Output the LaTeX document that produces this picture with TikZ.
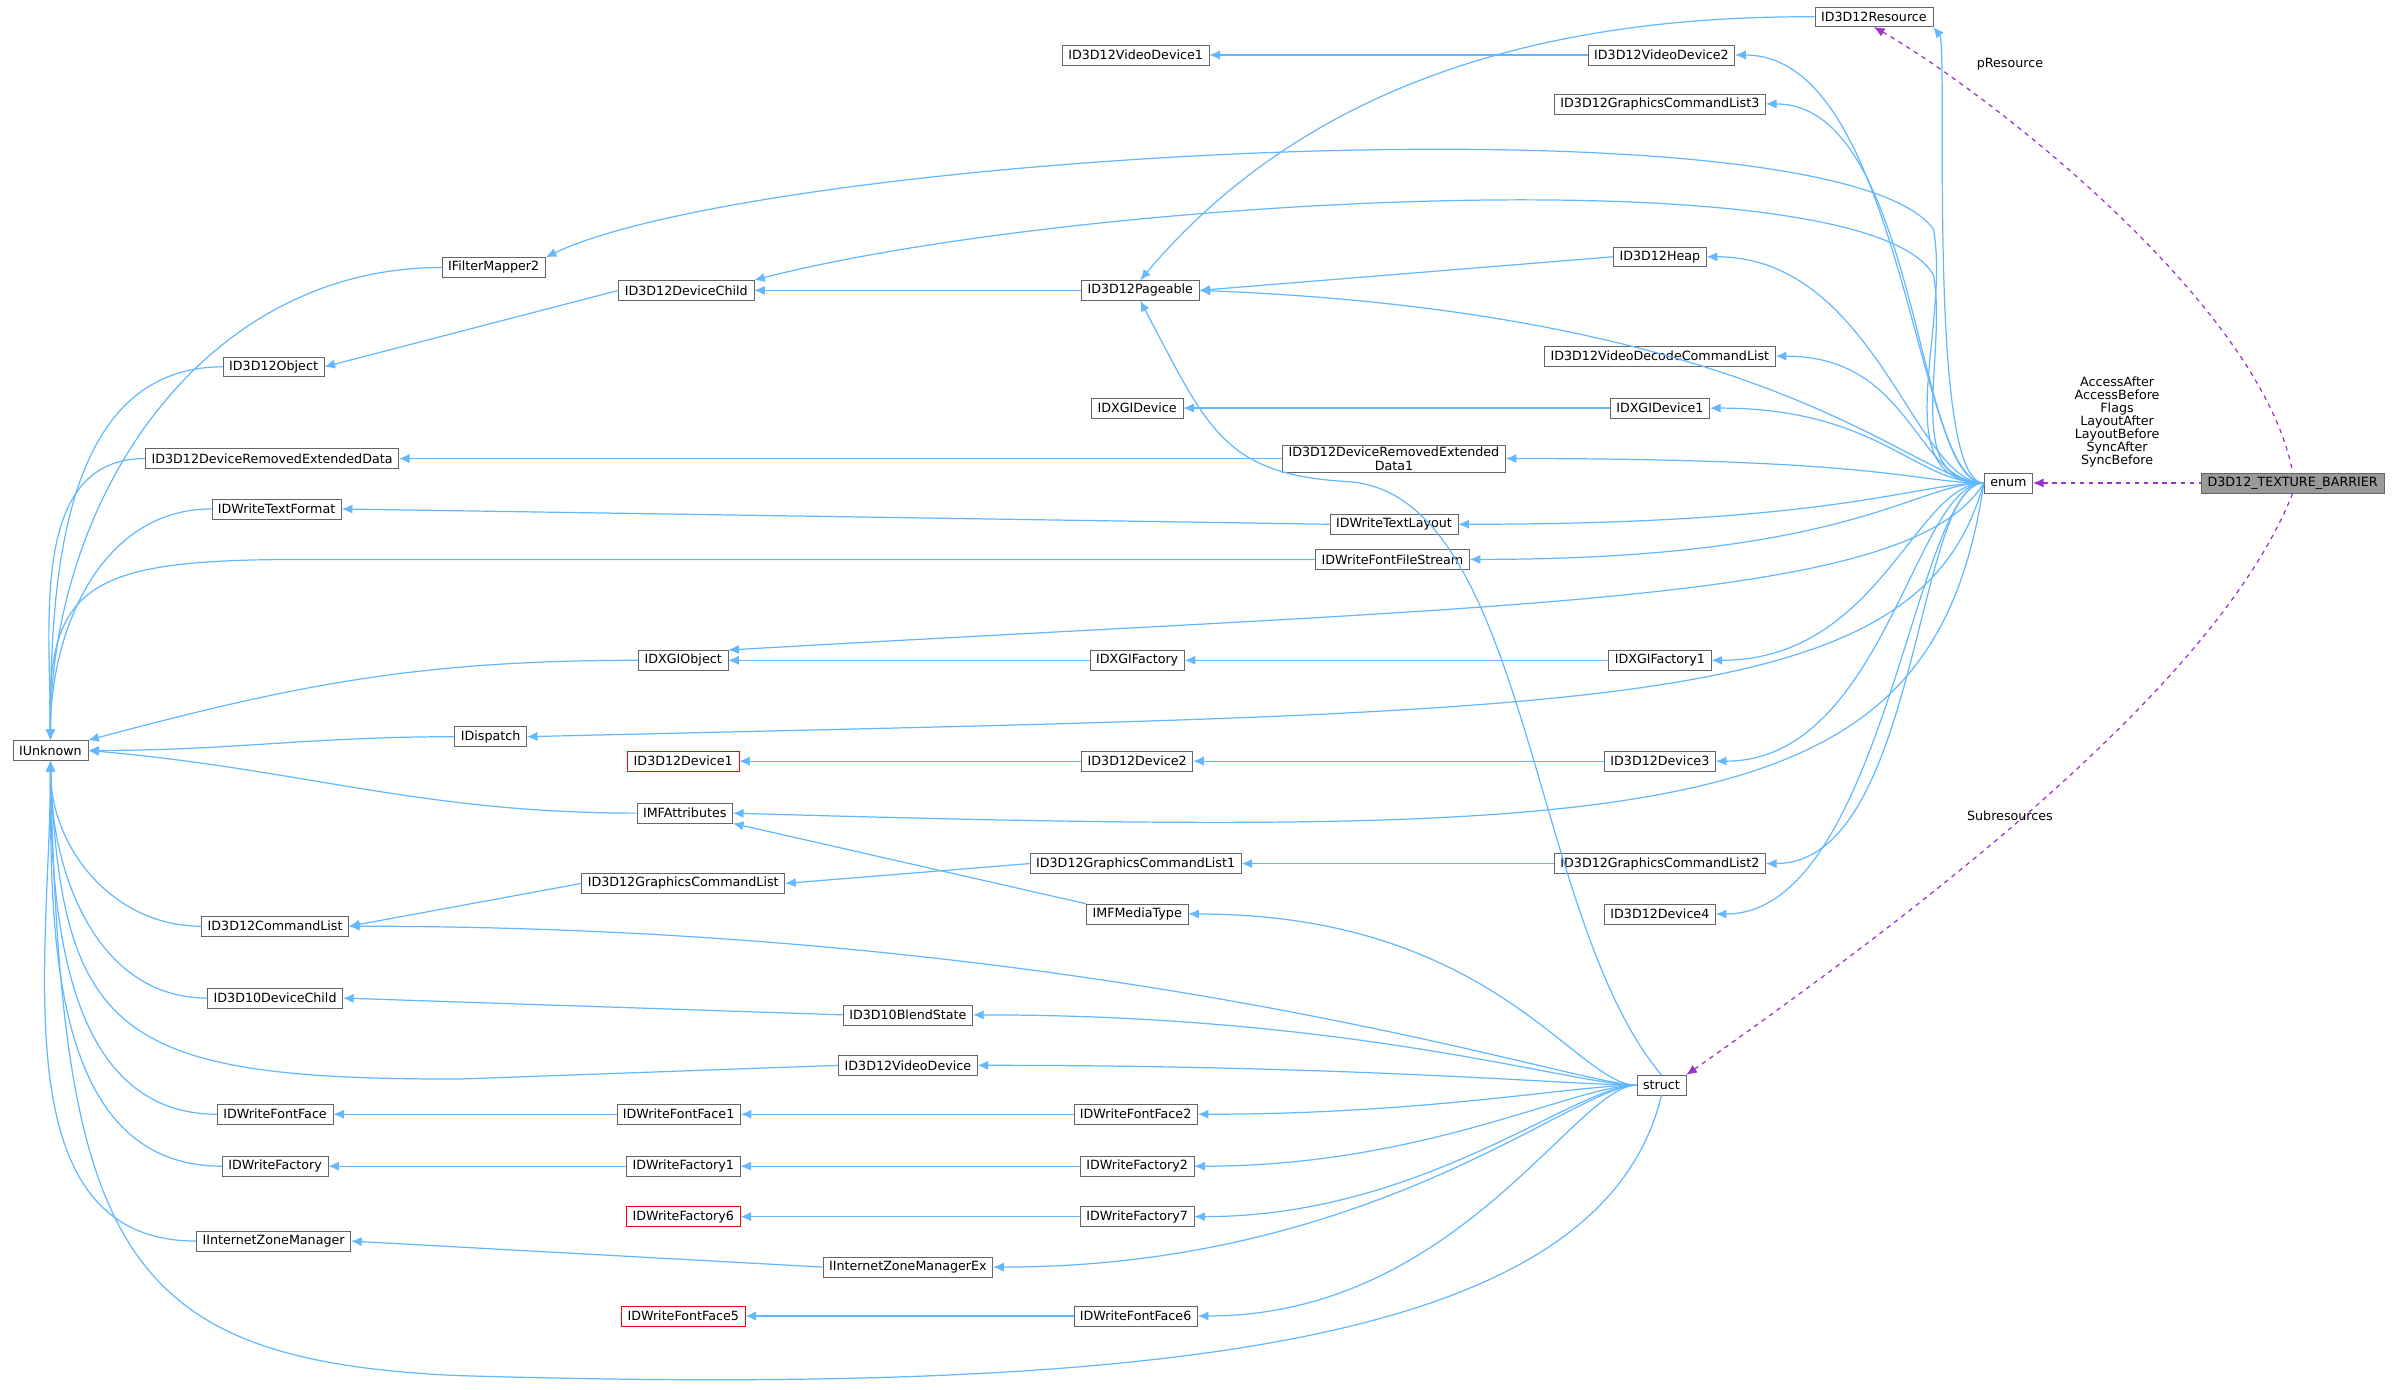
\documentclass[tikz,border=0pt]{standalone}
\usepackage{fontspec}
\setmainfont{DejaVu Sans}
\usetikzlibrary{arrows.meta}
\definecolor{eb}{RGB}{99,184,255}
\definecolor{pu}{RGB}{154,50,205}
\begin{document}
\begin{tikzpicture}[x=1pt,y=-1pt,
 n/.style={draw=black!60,fill=white,font=\fontsize{8.3}{9}\selectfont,minimum height=13pt,inner xsep=4pt,inner ysep=1pt,align=center},
 r/.style={n,draw=red},
 e/.style={draw=eb,line width=0.8pt,{Latex[length=7pt,width=6pt]}-},
 p/.style={draw=pu,line width=0.8pt,dashed,{Latex[length=7pt,width=6pt]}-},
 lb/.style={font=\fontsize{8.3}{8.5}\selectfont,align=center,inner sep=0pt}]
\useasboundingbox (0,0) rectangle (1565,909);
\node[n,fill=black!40] (tb) at (1500,316) {D3D12\_TEXTURE\_BARRIER};
\node[n] (enum) at (1314,316) {enum};
\node[n] (struct) at (1087,710) {struct};
\node[n] (res) at (1226,11) {ID3D12Resource};
\node[n] (vd1) at (743,36) {ID3D12VideoDevice1};
\node[n] (vd2) at (1087,36) {ID3D12VideoDevice2};
\node[n] (gcl3) at (1086,68) {ID3D12GraphicsCommandList3};
\node[n] (fm2) at (323,175) {IFilterMapper2};
\node[n] (dc) at (449,190) {ID3D12DeviceChild};
\node[n] (pg) at (746,190) {ID3D12Pageable};
\node[n] (heap) at (1086,168) {ID3D12Heap};
\node[n] (obj) at (179,240) {ID3D12Object};
\node[n] (vdcl) at (1086,233) {ID3D12VideoDecodeCommandList};
\node[n] (dxd) at (744,267) {IDXGIDevice};
\node[n] (dxd1) at (1086,267) {IDXGIDevice1};
\node[n] (dred) at (178,300) {ID3D12DeviceRemovedExtendedData};
\node[n] (dred1) at (912,300) {ID3D12DeviceRemovedExtended\\Data1};
\node[n] (tf) at (181,333) {IDWriteTextFormat};
\node[n] (tl) at (912,343) {IDWriteTextLayout};
\node[n] (ffs) at (911,366) {IDWriteFontFileStream};
\node[n] (dxo) at (447,432) {IDXGIObject};
\node[n] (dxf) at (744,432) {IDXGIFactory};
\node[n] (dxf1) at (1086,432) {IDXGIFactory1};
\node[n] (unk) at (33,491) {IUnknown};
\node[n] (disp) at (321,482) {IDispatch};
\node[r] (d1) at (447,498) {ID3D12Device1};
\node[n] (d2) at (744,498) {ID3D12Device2};
\node[n] (d3) at (1086,498) {ID3D12Device3};
\node[n] (mfa) at (448,532) {IMFAttributes};
\node[n] (gcl1) at (743,565) {ID3D12GraphicsCommandList1};
\node[n] (gcl2) at (1086,565) {ID3D12GraphicsCommandList2};
\node[n] (gcl) at (447,578) {ID3D12GraphicsCommandList};
\node[n] (cl) at (180,606) {ID3D12CommandList};
\node[n] (mft) at (744,598) {IMFMediaType};
\node[n] (d4) at (1086,598) {ID3D12Device4};
\node[n] (d10) at (180,653) {ID3D10DeviceChild};
\node[n] (bs) at (594,664) {ID3D10BlendState};
\node[n] (vd) at (594,697) {ID3D12VideoDevice};
\node[n] (ff) at (180,729) {IDWriteFontFace};
\node[n] (ff1) at (444,729) {IDWriteFontFace1};
\node[n] (ff2) at (743,729) {IDWriteFontFace2};
\node[n] (fa) at (180,763) {IDWriteFactory};
\node[n] (fa1) at (447,763) {IDWriteFactory1};
\node[n] (fa2) at (744,763) {IDWriteFactory2};
\node[r] (fa6) at (447,796) {IDWriteFactory6};
\node[n] (fa7) at (744,796) {IDWriteFactory7};
\node[n] (izm) at (179,812) {IInternetZoneManager};
\node[n] (izmx) at (594,829) {IInternetZoneManagerEx};
\node[r] (ff5) at (447,861) {IDWriteFontFace5};
\node[n] (ff6) at (743,861) {IDWriteFontFace6};
% enum edges
\foreach \a/\L in {vd2/110,gcl3/100,heap/110,vdcl/90,dxd1/110,d3/110,gcl2/100,d4/110,dxf1/110,dred1/250,tl/250,ffs/250}
  \draw[e] (\a.east) .. controls +(\L,0) and +(-45,0) .. (enum.west);
\draw[e] (pg.east) .. controls +(380,15) and +(-45,0) .. (enum.west);
\draw[e] (dxo.north east) .. controls (1000,395) and (1250,395) .. (enum.west);
\draw[e] (disp.east) .. controls (1050,465) and (1255,470) .. (enum.west);
\draw[e] (mfa.east) .. controls (1100,550) and (1265,540) .. (enum.west);
\draw[e] (res.south east) .. controls (1275,30) and (1260,316) .. (enum.west);
\draw[e] (fm2.north east) .. controls (500,100) and (1200,60) .. (1265,150) to[out=-80,in=180] (enum.west);
\draw[e] (dc.north east) .. controls (700,130) and (1220,100) .. (1265,180) to[out=-80,in=180] (enum.west);
% simple chains
\draw[e] (vd1) -- (vd2);
\draw[e] (dc) -- (pg);
\draw[e] (pg.east) -- (heap.west);
\draw[e] (pg.north) .. controls (850,60) and (1000,10) .. (res.west);
\draw[e] (obj.east) -- (dc.west);
\draw[e] (dxd) -- (dxd1);
\draw[e] (dred.east) -- (dred1.west);
\draw[e] (tf.east) -- (tl.west);
\draw[e] (dxo) -- (dxf); \draw[e] (dxf) -- (dxf1);
\draw[e] (d1) -- (d2); \draw[e] (d2) -- (d3);
\draw[e] (mfa.south east) -- (mft.north west);
\draw[e] (gcl.east) -- (gcl1.west); \draw[e] (gcl1) -- (gcl2);
\draw[e] (cl.east) -- (gcl.west);
\draw[e] (d10.east) -- (bs.west);
\draw[e] (ff) -- (ff1); \draw[e] (ff1) -- (ff2);
\draw[e] (fa) -- (fa1); \draw[e] (fa1) -- (fa2);
\draw[e] (fa6) -- (fa7);
\draw[e] (izm.east) -- (izmx.west);
\draw[e] (ff5) -- (ff6);
% IUnknown edges
\foreach \a in {fm2,obj,dred,tf}
  \draw[e] (unk.north) to[out=90,in=180] (\a.west);
\draw[e] (unk.north) .. controls (30,380) and (60,366) .. (200,366) -- (ffs.west);
\draw[e] (unk.north east) to[out=15,in=180] (dxo.west);
\draw[e] (unk.east) to[out=0,in=180] (disp.west);
\draw[e] (unk.east) to[out=-5,in=180] (mfa.west);
\foreach \a in {cl,d10,ff,fa,izm}
  \draw[e] (unk.south) to[out=-90,in=180] (\a.west);
\draw[e] (unk.south) .. controls (40,680) and (80,706) .. (300,706) -- (vd.west);
\draw[e] (unk.south) .. controls (40,820) and (80,890) .. (300,900) .. controls (800,915) and (1050,870) .. (struct.south);
% struct edges
\foreach \a/\L in {cl/500,mft/200,bs/250,vd/250,ff2/150,fa2/150,fa7/150,izmx/250,ff6/170}
  \draw[e] (\a.east) .. controls +(\L,0) and +(-40,0) .. (struct.west);
\draw[e] (pg.south) .. controls (790,280) and (800,310) .. (880,315) .. controls (1000,320) and (1000,600) .. (struct.north);
% purple
\draw[p] (enum.east) -- (tb.west) node[lb,pos=0.5,above=10pt] {AccessAfter\\AccessBefore\\Flags\\LayoutAfter\\LayoutBefore\\SyncAfter\\SyncBefore};
\draw[p] (res.south) .. controls (1300,60) and (1480,200) .. (tb.north);
\node[lb] at (1315,42) {pResource};
\draw[p] (struct.north east) .. controls (1250,600) and (1450,450) .. (tb.south);
\node[lb] at (1315,534) {Subresources};
\end{tikzpicture}
\end{document}
